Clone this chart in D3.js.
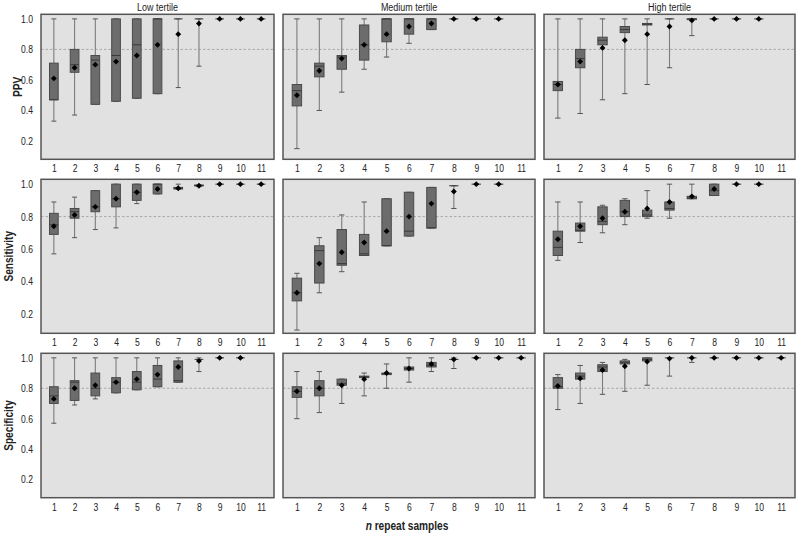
<!DOCTYPE html>
<html><head><meta charset="utf-8">
<script src="https://cdn.jsdelivr.net/npm/d3@7"></script>
<style>
body{margin:0;background:#fff;}
text{font-family:"Liberation Sans",Arial,sans-serif;fill:#222;}
</style></head><body>
<svg id="c" width="800" height="533"></svg>
<script>
// ---- data ----
const categories = [1,2,3,4,5,6,7,8,9,10,11];
const tertiles = ["Low tertile","Medium tertile","High tertile"];
const metrics = ["PPV","Sensitivity","Specificity"];
const yTicks = [0.2,0.4,0.6,0.8,1.0];
const refLine = 0.8;
// each entry: [whiskerLow, q1, median, q3, whiskerHigh, mean]; null = no data
const one = [1,1,1,1,1,1];
const ppvLow = [[0.33,0.47,0.47,0.71,1.0,0.61],[0.37,0.65,0.70,0.80,1.0,0.68],[0.44,0.44,0.73,0.76,1.0,0.70],[0.46,0.46,0.76,1.0,1.0,0.72],[0.48,0.48,0.83,1.0,1.0,0.76],[0.51,0.51,1.0,1.0,1.0,0.83],[0.55,1.0,1.0,1.0,1.0,0.90],[0.69,1.0,1.0,1.0,1.0,0.97],one,one,one];
const ppvMed = [[0.15,0.43,0.53,0.57,1.0,0.50],[0.40,0.62,0.69,0.71,1.0,0.66],[0.52,0.67,0.75,0.76,1.0,0.74],[0.67,0.73,0.83,0.96,1.0,0.83],[0.75,0.85,1.0,1.0,1.0,0.90],[0.84,0.90,1.0,1.0,1.0,0.95],[0.93,0.93,1.0,1.0,1.0,0.97],one,one,one,null];
const ppvHigh = [[0.35,0.53,0.57,0.59,1.0,0.57],[0.38,0.68,0.74,0.80,1.0,0.72],[0.47,0.83,0.86,0.88,1.0,0.81],[0.51,0.91,0.93,0.95,1.0,0.86],[0.57,0.96,0.965,0.97,1.0,0.90],[0.68,1.0,1.0,1.0,1.0,0.95],[0.89,0.995,1.0,1.0,1.0,0.99],one,one,one,null];
const sensLow = [[0.57,0.69,0.75,0.82,0.89,0.74],[0.67,0.79,0.83,0.85,0.92,0.81],[0.72,0.83,0.86,0.96,0.96,0.86],[0.73,0.86,0.91,1.0,1.0,0.91],[0.88,0.90,0.95,1.0,1.0,0.95],[0.94,0.94,1.0,1.0,1.0,0.97],[0.97,0.97,0.975,0.98,1.0,0.975],[0.985,0.99,0.99,0.995,0.995,0.99],one,one,one];
const sensMed = [[0.10,0.28,0.33,0.42,0.45,0.33],[0.33,0.39,0.59,0.62,0.67,0.51],[0.46,0.50,0.51,0.72,0.81,0.58],[0.56,0.56,0.57,0.69,0.89,0.64],[0.62,0.62,0.62,0.91,0.91,0.71],[0.68,0.68,0.71,0.95,0.95,0.80],[0.73,0.73,0.73,0.98,0.98,0.88],[0.85,0.99,0.99,0.99,0.99,0.955],one,one,null];
const sensHigh = [[0.53,0.56,0.61,0.71,0.89,0.66],[0.64,0.71,0.715,0.76,0.89,0.74],[0.70,0.75,0.77,0.86,0.87,0.79],[0.75,0.80,0.83,0.90,0.91,0.83],[0.79,0.80,0.81,0.84,0.96,0.85],[0.79,0.84,0.85,0.89,1.0,0.89],[0.91,0.91,0.915,0.925,1.0,0.925],[0.93,0.93,0.96,1.0,1.0,0.97],one,one,null];
const specLow = [[0.57,0.70,0.75,0.81,1.0,0.73],[0.69,0.72,0.84,0.85,1.0,0.80],[0.73,0.75,0.80,0.90,1.0,0.82],[0.77,0.77,0.84,0.87,1.0,0.84],[0.79,0.79,0.84,0.91,1.0,0.86],[0.81,0.81,0.86,0.95,1.0,0.89],[0.84,0.84,0.85,0.98,1.0,0.94],[0.91,0.99,0.99,0.99,1.0,0.98],one,one,null];
const specMed = [[0.60,0.74,0.78,0.81,0.91,0.78],[0.64,0.75,0.80,0.85,0.91,0.80],[0.70,0.82,0.83,0.86,0.86,0.82],[0.75,0.87,0.875,0.88,0.90,0.86],[0.80,0.89,0.895,0.90,0.96,0.90],[0.84,0.92,0.93,0.94,1.0,0.93],[0.91,0.94,0.95,0.97,1.0,0.96],[0.93,0.99,0.99,0.99,1.0,0.99],one,one,one];
const specHigh = [[0.66,0.80,0.81,0.87,0.89,0.815],[0.70,0.86,0.88,0.90,0.95,0.865],[0.76,0.91,0.94,0.955,0.97,0.92],[0.78,0.96,0.97,0.98,0.99,0.945],[0.82,0.98,0.99,1.0,1.0,0.975],[0.88,1.0,1.0,1.0,1.0,0.995],[0.97,1.0,1.0,1.0,1.0,1.0],one,one,one,one];
const panelData = [[ppvLow,ppvMed,ppvHigh],[sensLow,sensMed,sensHigh],[specLow,specMed,specHigh]];

// ---- layout ----
const colX = [[41,274],[283,535],[544,795]];
const rowY = [[14.3,159.3],[179.3,333.3],[353.3,497.7]];
const yDomain = [0.08,1.03];
const SX = 0.78; // horizontal condensing of text
const svg = d3.select("#c");

tertiles.forEach((t,ci)=>{
  svg.append("text").attr("transform",`translate(${(colX[ci][0]+colX[ci][1])/2},11) scale(${SX},1)`)
    .attr("text-anchor","middle").attr("font-size",11.5).text(t);
});
const yLabelX = [17,8,8];
metrics.forEach((m,ri)=>{
  const cy=(rowY[ri][0]+rowY[ri][1])/2;
  svg.append("text").attr("transform",`translate(${yLabelX[ri]+4.5},${cy}) rotate(-90) scale(${SX},1)`)
    .attr("text-anchor","middle").attr("font-size",13).attr("font-weight","bold").text(m);
});
const xt = svg.append("text").attr("transform",`translate(407,530) scale(${SX},1)`).attr("text-anchor","middle")
  .attr("font-size",13).attr("font-weight","bold");
xt.append("tspan").attr("font-style","italic").text("n");
xt.append("tspan").text(" repeat samples");

panelData.forEach((row,ri)=>{
  row.forEach((data,ci)=>{
    const [x0,x1]=colX[ci], [y0,y1]=rowY[ri];
    const x = d3.scalePoint().domain(categories).range([x0,x1]).padding(0.62);
    const y = d3.scaleLinear().domain(yDomain).range([y1,y0]);
    const g = svg.append("g");
    g.append("rect").attr("x",x0).attr("y",y0).attr("width",x1-x0).attr("height",y1-y0)
      .attr("fill","#e1e1e1");
    g.append("line").attr("x1",x0).attr("x2",x1).attr("y1",y(refLine)).attr("y2",y(refLine))
      .attr("stroke","#9a9a9a").attr("stroke-width",0.8).attr("stroke-dasharray","2.5,2");
    const bw = x.step()*0.42, cw = x.step()*0.24;
    categories.forEach((c,i)=>{
      const d = data[i]; if(!d) return;
      const cx = x(c);
      const [lo,q1,med,q3,hi,mean]=d;
      const wc="#7c7c7c";
      g.append("line").attr("x1",cx).attr("x2",cx).attr("y1",y(lo)).attr("y2",y(hi)).attr("stroke",wc).attr("stroke-width",1.1);
      [lo,hi].forEach(v=>g.append("line").attr("x1",cx-cw/2).attr("x2",cx+cw/2).attr("y1",y(v)).attr("y2",y(v)).attr("stroke","#555").attr("stroke-width",1));
      g.append("rect").attr("x",cx-bw/2).attr("y",y(q3)).attr("width",bw).attr("height",Math.max(0,y(q1)-y(q3)))
        .attr("fill","#6c6c6c").attr("stroke","#4a4a4a").attr("stroke-width",1);
      g.append("line").attr("x1",cx-bw/2).attr("x2",cx+bw/2).attr("y1",y(med)).attr("y2",y(med)).attr("stroke","#3a3a3a").attr("stroke-width",1);
      g.append("path").attr("transform",`translate(${cx},${y(mean)})`)
        .attr("d",d3.symbol().type(d3.symbolDiamond2).size(22)()).attr("fill","#000");
    });
    g.append("rect").attr("x",x0).attr("y",y0).attr("width",x1-x0).attr("height",y1-y0)
      .attr("fill","none").attr("stroke","#555").attr("stroke-width",1.5);
    // x axis labels
    const xa = svg.append("g").attr("transform",`translate(0,${y1})`)
      .call(d3.axisBottom(x).tickSize(0).tickPadding(5));
    xa.select(".domain").remove();
    xa.selectAll("text").attr("font-size",11).attr("fill","#222")
      .style("font-family","'Liberation Sans',Arial,sans-serif")
      .attr("transform",`scale(${SX},1)`);
    if(ci===0){
      const ya = svg.append("g").attr("transform",`translate(${x0},0)`)
        .call(d3.axisLeft(y).tickValues(yTicks).tickFormat(d3.format(".1f")).tickSize(0).tickPadding(8/SX));
      ya.select(".domain").remove();
      ya.selectAll("text").attr("font-size",11).attr("fill","#222")
        .style("font-family","'Liberation Sans',Arial,sans-serif")
        .attr("transform",`scale(${SX},1)`);
    }
  });
});
</script>
</body></html>
